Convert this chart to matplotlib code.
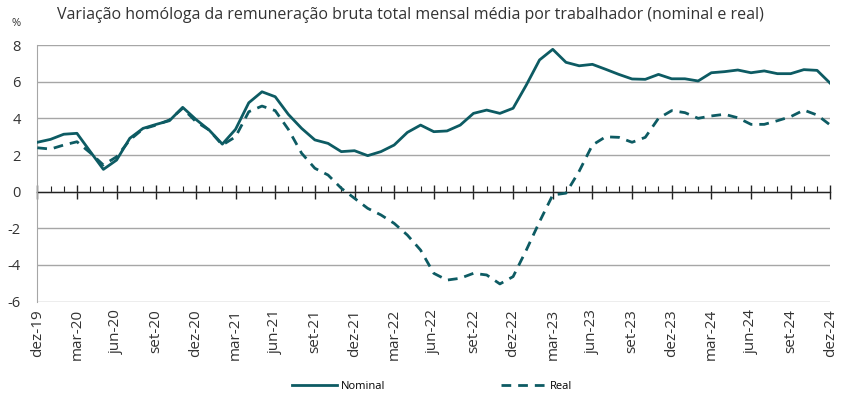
import numpy as np
import matplotlib.pyplot as plt
from matplotlib.ticker import MultipleLocator

# Monthly data, dez-19 .. dez-24 (61 months)
nominal = [2.70, 2.86, 3.14, 3.19, 2.20, 1.22, 1.73, 2.92, 3.46, 3.68,
           3.88, 4.61, 3.95, 3.37, 2.60, 3.41, 4.86, 5.46, 5.19, 4.22,
           3.46, 2.83, 2.64, 2.19, 2.24, 1.97, 2.19, 2.55, 3.24, 3.64,
           3.28, 3.32, 3.64, 4.28, 4.46, 4.28, 4.56, 5.83, 7.20, 7.78,
           7.07, 6.88, 6.96, 6.69, 6.41, 6.16, 6.14, 6.41, 6.17, 6.17,
           6.05, 6.50, 6.56, 6.65, 6.50, 6.60, 6.45, 6.45, 6.67, 6.63,
           5.92]
real = [2.40, 2.33, 2.55, 2.73, 2.13, 1.46, 1.91, 2.83, 3.43, 3.64,
        3.92, 4.56, 3.83, 3.37, 2.55, 3.00, 4.37, 4.68, 4.43, 3.40,
        2.10, 1.28, 0.91, 0.19, -0.36, -0.91, -1.27, -1.73, -2.37, -3.19,
        -4.46, -4.83, -4.73, -4.46, -4.55, -5.04, -4.64, -3.19, -1.64, -0.18,
        -0.08, 1.12, 2.55, 3.00, 2.97, 2.70, 2.97, 4.01, 4.43, 4.32,
        4.01, 4.14, 4.23, 4.04, 3.68, 3.68, 3.88, 4.10, 4.46, 4.19,
        3.64]
tick_labels = ['dez-19', 'mar-20', 'jun-20', 'set-20', 'dez-20', 'mar-21', 'jun-21',
               'set-21', 'dez-21', 'mar-22', 'jun-22', 'set-22', 'dez-22', 'mar-23',
               'jun-23', 'set-23', 'dez-23', 'mar-24', 'jun-24', 'set-24', 'dez-24']

color = '#0d5b63'
grid_col = '#a6a6a6'
plt.rcParams['font.family'] = ['Open Sans', 'DejaVu Sans']
plt.rcParams['axes.unicode_minus'] = False

x = np.arange(len(nominal))
major = np.arange(0, len(nominal), 3)

fig = plt.figure(figsize=(8.43, 3.98), dpi=100)
ax = fig.add_axes([37.3 / 843, 1 - 301.5 / 398, (830.3 - 37.3) / 843, (301.5 - 45.3) / 398])

ax.plot(x, nominal, color=color, lw=2.0, label='Nominal', zorder=3)
ax.plot(x, real, color=color, lw=2.0, ls=(0, (3.5, 2.5)), label='Real', zorder=3)

ax.set_xlim(0, len(nominal) - 1)
ax.set_ylim(-6, 8)
ax.yaxis.set_major_locator(MultipleLocator(2))
ax.grid(axis='y', color=grid_col, lw=1.0, zorder=0)
ax.set_axisbelow(True)
ax.tick_params(axis='y', length=0, labelsize=10.5, colors='#333333', pad=12)

for s in ['top', 'right']:
    ax.spines[s].set_visible(False)
ax.spines['left'].set_color(grid_col)
ax.spines['bottom'].set_position(('data', 0))
ax.spines['bottom'].set_color('#222222')
ax.spines['bottom'].set_linewidth(1.0)
ax.spines['bottom'].set_zorder(2)

ax.set_xticks(major)
ax.set_xticks(x, minor=True)
ax.tick_params(axis='x', which='major', direction='inout', length=10, width=1.0,
               color='#222222', labelbottom=False)
ax.tick_params(axis='x', which='minor', direction='in', length=4, width=0.8, color='#222222')

# category labels along the bottom edge of the plot area
for pos, lab in zip(major, tick_labels):
    ax.text(pos, -0.03, lab, transform=ax.get_xaxis_transform(), rotation=90,
            ha='center', va='top', fontsize=11, color='#333333')

fig.text(12 / 843, 1 - 23 / 398, '%', fontsize=8, color='#333333', va='center')
fig.text(57 / 843, 1 - 15 / 398,
         'Variação homóloga da remuneração bruta total mensal média por trabalhador (nominal e real)',
         fontsize=11.5, color='#333333', va='center')

ax.legend(loc='center', bbox_to_anchor=(0.498, -0.33), ncol=2, frameon=False,
          fontsize=8, handlelength=4, columnspacing=10.4, handletextpad=0.4)

fig.savefig('out.png', dpi=100)
